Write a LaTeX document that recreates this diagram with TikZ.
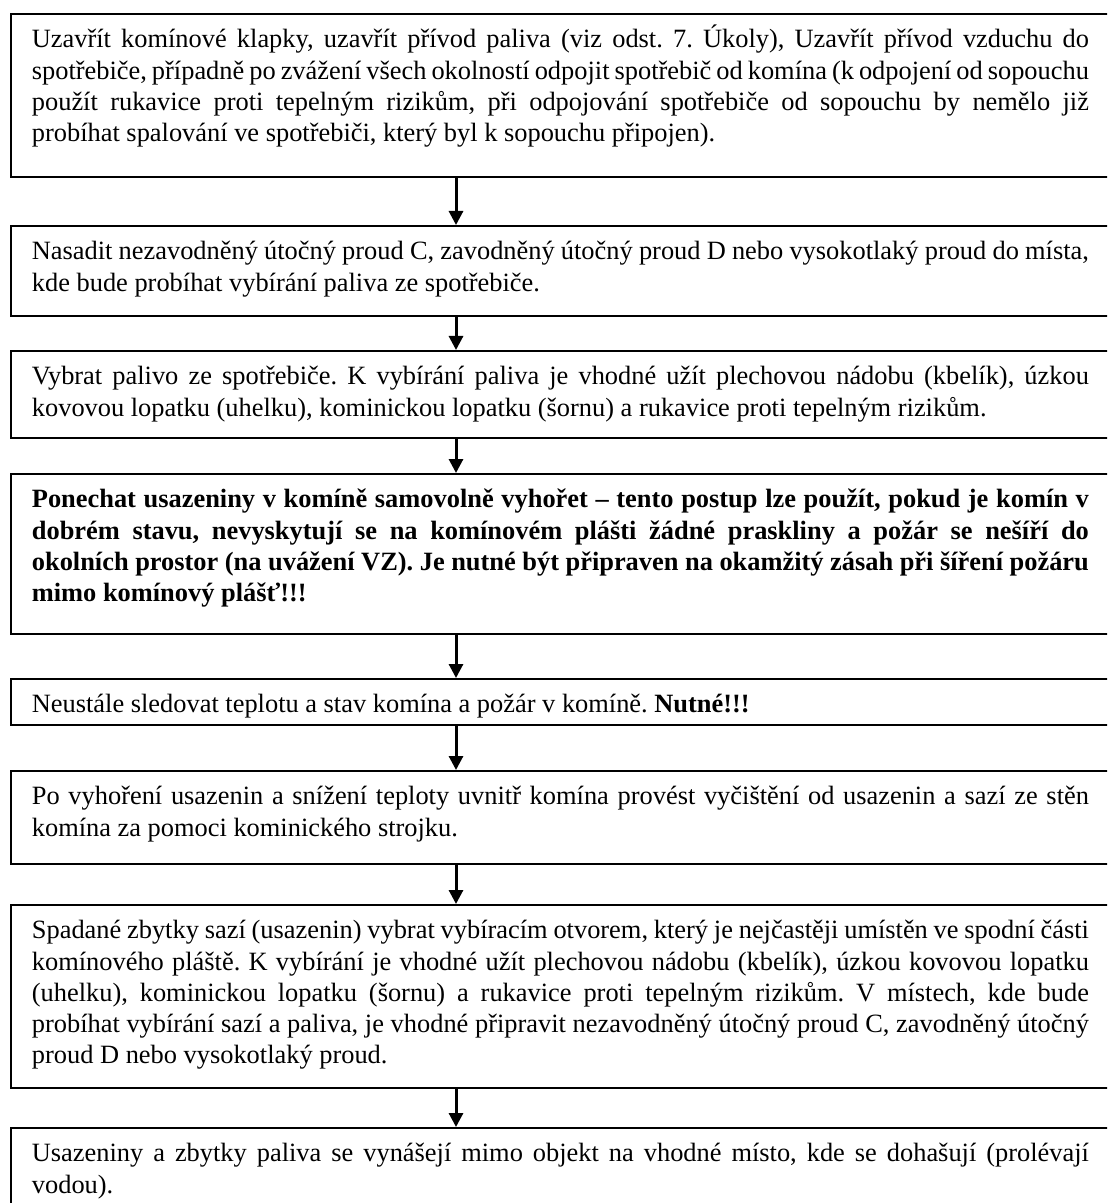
\documentclass[tikz,border=0pt]{standalone}
\usepackage{fontspec}
\setmainfont{Liberation Serif}
\usetikzlibrary{arrows.meta}

\newlength{\stepw}\setlength{\stepw}{528.5pt}
\newcommand{\steptext}[2]{\parbox[t][#1][t]{\stepw}{\frenchspacing\rule{0pt}{17pt}#2}}

\tikzset{
  stepbox/.style={draw, line width=0.9pt, anchor=north west,
    inner xsep=10.5pt, inner ysep=0pt, font=\fontsize{13.2}{15.6}\selectfont},
  flow/.style={line width=1.5pt, -{Triangle[length=7pt,width=7pt]}},
}

\begin{document}
\begin{tikzpicture}[x=0.5pt,y=-0.5pt]
      %\draw[help lines] (0,0) grid (1107,1203);
      \useasboundingbox (0,0) rectangle (1107,1203);
      \clip (0,0) rectangle (1107,1203);

      \coordinate (ax) at (456,0);

      \node[stepbox] (b1) at (10,13) {\steptext{81.5pt}{Uzavřít komínové klapky, uzavřít přívod paliva (viz odst. 7. Úkoly), Uzavřít přívod vzduchu do\linebreak
        spotřebiče, případně po zvážení všech okolností odpojit spotřebič od komína (k odpojení od sopouchu\linebreak
        použít rukavice proti tepelným rizikům, při odpojování spotřebiče od sopouchu by nemělo již\linebreak
        probíhat spalování ve spotřebiči, který byl k sopouchu připojen).}};

      \node[stepbox] (b2) at (10,225) {\steptext{45pt}{Nasadit nezavodněný útočný proud C, zavodněný útočný proud D nebo vysokotlaký proud do místa,\linebreak
        kde bude probíhat vybírání paliva ze spotřebiče.}};

      \node[stepbox] (b3) at (10,350) {\steptext{43.5pt}{Vybrat palivo ze spotřebiče. K vybírání paliva je vhodné užít plechovou nádobu (kbelík), úzkou\linebreak
        kovovou lopatku (uhelku), kominickou lopatku (šornu) a rukavice proti tepelným rizikům.}};

      \node[stepbox] (b4) at (10,473) {\steptext{80pt}{\bfseries Ponechat usazeniny v komíně samovolně vyhořet – tento postup lze použít, pokud je komín v\linebreak
        dobrém stavu, nevyskytují se na komínovém plášti žádné praskliny a požár se nešíří do\linebreak
        okolních prostor (na uvážení VZ). Je nutné být připraven na okamžitý zásah při šíření požáru\linebreak
        mimo komínový plášť!!!}};

      \node[stepbox] (b5) at (10,678) {\steptext{23pt}{Neustále sledovat teplotu a stav komína a požár v komíně. \textbf{Nutné!!!}}};

      \node[stepbox] (b6) at (10,770) {\steptext{46.5pt}{Po vyhoření usazenin a snížení teploty uvnitř komína provést vyčištění od usazenin a sazí ze stěn\linebreak
        komína za pomoci kominického strojku.}};

      \node[stepbox] (b7) at (10,904) {\steptext{91.5pt}{Spadané zbytky sazí (usazenin) vybrat vybíracím otvorem, který je nejčastěji umístěn ve spodní části\linebreak
        komínového pláště. K vybírání je vhodné užít plechovou nádobu (kbelík), úzkou kovovou lopatku\linebreak
        (uhelku), kominickou lopatku (šornu) a rukavice proti tepelným rizikům. V místech, kde bude\linebreak
        probíhat vybírání sazí a paliva, je vhodné připravit nezavodněný útočný proud C, zavodněný útočný\linebreak
        proud D nebo vysokotlaký proud.}};

      \node[stepbox] (b8) at (10,1127) {\steptext{60pt}{Usazeniny a zbytky paliva se vynášejí mimo objekt na vhodné místo, kde se dohašují (prolévají\linebreak
        vodou).}};

      \draw[flow] (b1.south -| ax) -- (b2.north -| ax);
      \draw[flow] (b2.south -| ax) -- (b3.north -| ax);
      \draw[flow] (b3.south -| ax) -- (b4.north -| ax);
      \draw[flow] (b4.south -| ax) -- (b5.north -| ax);
      \draw[flow] (b5.south -| ax) -- (b6.north -| ax);
      \draw[flow] (b6.south -| ax) -- (b7.north -| ax);
      \draw[flow] (b7.south -| ax) -- (b8.north -| ax);
\end{tikzpicture}
\end{document}
